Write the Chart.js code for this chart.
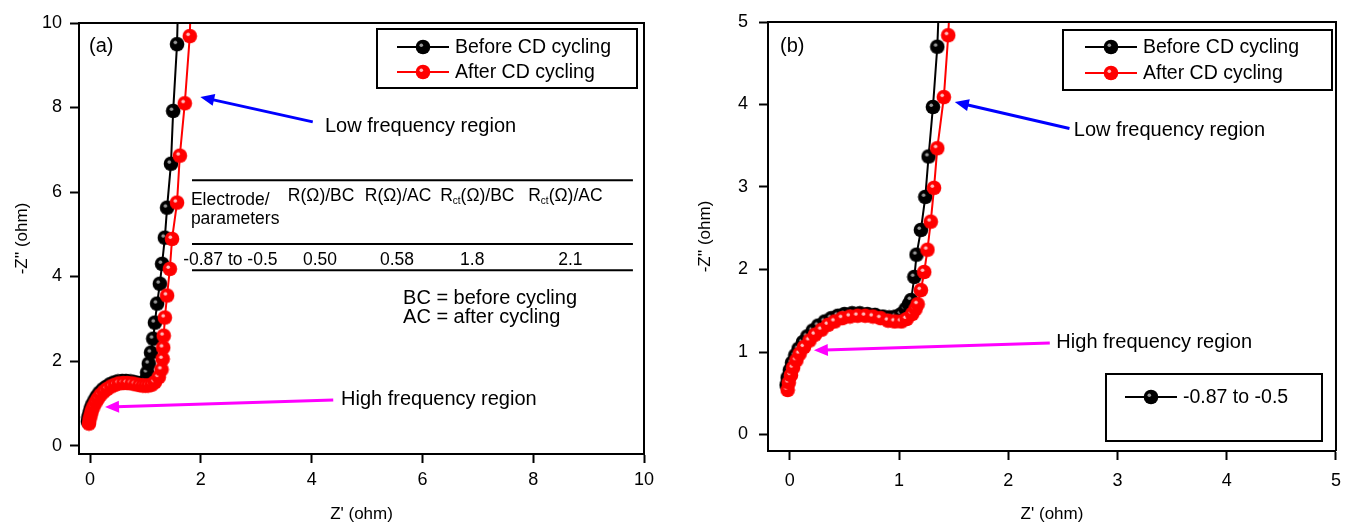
<!DOCTYPE html>
<html>
<head>
<meta charset="utf-8">
<script src="https://cdn.jsdelivr.net/npm/chart.js@4/dist/chart.umd.min.js"></script>
<style>
  html, body { margin: 0; padding: 0; background: #fff; }
  #wrap-a { position: absolute; left: 0; top: 0; }
  #wrap-b { position: absolute; left: 690px; top: 0; }
</style>
</head>
<body>
<div id="wrap-a"><canvas id="chart-a" width="690" height="525"></canvas></div>
<div id="wrap-b"><canvas id="chart-b" width="661" height="525"></canvas></div>
<script>
const FONT = '"Liberation Sans", Arial, Helvetica, sans-serif';

// Panel (a): Nyquist plot, Z' vs -Z'' (ohm)
const beforeA_x = [-0.04, -0.03, -0.01, 0.01, 0.04, 0.08, 0.12, 0.17, 0.23, 0.29, 0.36, 0.43, 0.50, 0.58, 0.65, 0.73, 0.80, 0.87, 0.93, 0.98, 1.01,
                   1.03, 1.06, 1.10, 1.14, 1.17, 1.21, 1.26, 1.30, 1.35, 1.39, 1.46, 1.50, 1.57, 1.59];
const beforeA_y = [0.57, 0.67, 0.77, 0.87, 0.97, 1.07, 1.16, 1.25, 1.33, 1.39, 1.45, 1.49, 1.52, 1.53, 1.53, 1.52, 1.50, 1.48, 1.47, 1.49, 1.56,
                   1.73, 1.94, 2.20, 2.53, 2.91, 3.36, 3.83, 4.30, 4.92, 5.63, 6.67, 7.92, 9.50, 10.6];
const afterA_x = [-0.02, -0.01, 0.01, 0.03, 0.06, 0.10, 0.14, 0.19, 0.25, 0.31, 0.38, 0.45, 0.52, 0.60, 0.67, 0.75, 0.82, 0.89, 0.95, 1.00, 1.05, 1.11,
                  1.17, 1.24, 1.29, 1.31, 1.32, 1.33, 1.35, 1.39, 1.44, 1.48, 1.57, 1.62, 1.71, 1.80, 1.82];
const afterA_y = [0.52, 0.62, 0.72, 0.82, 0.92, 1.02, 1.11, 1.20, 1.28, 1.34, 1.40, 1.44, 1.47, 1.48, 1.48, 1.47, 1.45, 1.43, 1.42, 1.42, 1.42, 1.44,
                  1.50, 1.62, 1.80, 2.05, 2.32, 2.60, 3.03, 3.55, 4.18, 4.89, 5.75, 6.86, 8.10, 9.69, 10.6];

// Panel (b): same data, zoomed
const beforeB_x = [-0.03, -0.02, 0.00, 0.02, 0.05, 0.08, 0.12, 0.16, 0.21, 0.26, 0.32, 0.38, 0.44, 0.50, 0.57, 0.64, 0.71, 0.78, 0.85, 0.91, 0.97, 1.02, 1.06,
                   1.09, 1.11, 1.14, 1.16, 1.20, 1.24, 1.27, 1.31, 1.35, 1.37];
const beforeB_y = [0.60, 0.69, 0.78, 0.87, 0.96, 1.04, 1.12, 1.19, 1.26, 1.32, 1.37, 1.41, 1.44, 1.46, 1.47, 1.47, 1.46, 1.45, 1.43, 1.42, 1.43, 1.46, 1.52,
                   1.58, 1.63, 1.91, 2.18, 2.48, 2.88, 3.37, 3.97, 4.70, 5.40];
const afterB_x = [-0.02, -0.01, 0.01, 0.03, 0.06, 0.09, 0.13, 0.18, 0.23, 0.29, 0.35, 0.41, 0.48, 0.55, 0.62, 0.69, 0.76, 0.83, 0.90, 0.96, 1.02, 1.07, 1.12,
                  1.15, 1.17, 1.20, 1.23, 1.26, 1.29, 1.32, 1.35, 1.41, 1.45, 1.47];
const afterB_y = [0.54, 0.63, 0.72, 0.81, 0.90, 0.98, 1.06, 1.14, 1.21, 1.27, 1.33, 1.37, 1.41, 1.43, 1.44, 1.44, 1.43, 1.41, 1.38, 1.37, 1.37, 1.40, 1.46,
                  1.52, 1.58, 1.75, 1.97, 2.24, 2.58, 2.99, 3.47, 4.09, 4.84, 5.40];

const ticksA_x = [0, 2, 4, 6, 8, 10];
const ticksA_y = [0, 2, 4, 6, 8, 10];
const ticksB_x = [0, 1, 2, 3, 4, 5];
const ticksB_y = [0, 1, 2, 3, 4, 5];

const seriesNames = ['Before CD cycling', 'After CD cycling'];
const tableHead = ['R(\u03A9)/BC', 'R(\u03A9)/AC', 'Rct(\u03A9)/BC', 'Rct(\u03A9)/AC'];
const tableRow = ['-0.87 to -0.5', '0.50', '0.58', '1.8', '2.1'];

// shaded ball marker
function makeBall(color, shine) {
  const c = document.createElement('canvas');
  c.width = 16; c.height = 16;
  const g = c.getContext('2d');
  g.fillStyle = color;
  g.beginPath(); g.arc(8, 8, 7.3, 0, Math.PI * 2); g.fill();
  g.fillStyle = shine;
  g.beginPath(); g.arc(6.3, 6.3, 1.8, 0, Math.PI * 2); g.fill();
  return c;
}
const blackBall = makeBall('#000', '#9a9a9a');
const redBall = makeBall('#ff0000', '#ffc0c0');

function zip(xs, ys) {
  return xs.map((x, i) => ({ x: x, y: ys[i] }));
}

function makeDatasets(bx, by, ax, ay) {
  return [
    { label: seriesNames[1], data: zip(ax, ay), showLine: true, borderColor: '#ff0000', borderWidth: 2,
      pointStyle: redBall, pointRadius: 8, order: 0 },
    { label: seriesNames[0], data: zip(bx, by), showLine: true, borderColor: '#000', borderWidth: 2,
      pointStyle: blackBall, pointRadius: 8, order: 1 }
  ];
}

function makeScales(cfg) {
  return {
    x: {
      type: 'linear', min: -0.2, max: cfg.xmax,
      afterBuildTicks: s => { s.ticks = cfg.xticks.map(v => ({ value: v })); },
      afterFit: s => { s.height = cfg.xHeight; },
      ticks: { color: '#000', font: { family: FONT, size: 18 }, padding: cfg.xPad, maxRotation: 0 },
      grid: { drawOnChartArea: false, tickLength: 9, tickWidth: 2, color: '#000' },
      border: { color: '#000', width: 2 },
      title: { display: true, text: "Z' (ohm)", color: '#000', font: { family: FONT, size: 17 }, padding: { top: 0, bottom: 0 } }
    },
    y: {
      type: 'linear', min: -0.2, max: cfg.ymax,
      afterBuildTicks: s => { s.ticks = cfg.yticks.map(v => ({ value: v })); },
      afterFit: s => { s.width = cfg.yWidth; },
      ticks: { color: '#000', font: { family: FONT, size: 18 }, padding: cfg.yPad },
      grid: { drawOnChartArea: false, tickLength: 9, tickWidth: 2, color: '#000' },
      border: { color: '#000', width: 2 },
      title: { display: true, text: "-Z'' (ohm)", color: '#000', font: { family: FONT, size: 17 }, padding: { top: cfg.yTitlePad, bottom: 0 } }
    }
  };
}

function arrow(ctx, x1, y1, x2, y2, color) {
  const a = Math.atan2(y2 - y1, x2 - x1);
  const hl = 14, hw = 6;
  ctx.save();
  ctx.strokeStyle = color;
  ctx.fillStyle = color;
  ctx.lineWidth = 3;
  ctx.beginPath();
  ctx.moveTo(x1, y1);
  ctx.lineTo(x2 - hl * 0.8 * Math.cos(a), y2 - hl * 0.8 * Math.sin(a));
  ctx.stroke();
  ctx.beginPath();
  ctx.moveTo(x2, y2);
  ctx.lineTo(x2 - hl * Math.cos(a) + hw * Math.sin(a), y2 - hl * Math.sin(a) - hw * Math.cos(a));
  ctx.lineTo(x2 - hl * Math.cos(a) - hw * Math.sin(a), y2 - hl * Math.sin(a) + hw * Math.cos(a));
  ctx.closePath();
  ctx.fill();
  ctx.restore();
}

function legendEntry(ctx, x0, y, color, ball, text) {
  ctx.save();
  ctx.strokeStyle = color;
  ctx.lineWidth = 2;
  ctx.beginPath(); ctx.moveTo(x0, y); ctx.lineTo(x0 + 52, y); ctx.stroke();
  ctx.drawImage(ball, x0 + 26 - 8, y - 8);
  ctx.fillStyle = '#000';
  ctx.textAlign = 'left';
  ctx.textBaseline = 'middle';
  ctx.fillText(text, x0 + 58, y + 1);
  ctx.restore();
}

// header text with "ct" subscript after R
function headText(ctx, text, x, y) {
  ctx.textAlign = 'left';
  if (text.startsWith('Rct')) {
    ctx.font = '17.5px ' + FONT;
    ctx.fillText('R', x, y);
    x += ctx.measureText('R').width;
    ctx.font = '10px ' + FONT;
    ctx.fillText('ct', x, y + 5);
    x += ctx.measureText('ct').width;
    ctx.font = '17.5px ' + FONT;
    ctx.fillText(text.slice(3), x, y);
  } else {
    ctx.font = '17.5px ' + FONT;
    ctx.fillText(text, x, y);
  }
}

function frame(ctx, a) {
  ctx.strokeStyle = '#000';
  ctx.lineWidth = 2;
  ctx.beginPath();
  ctx.moveTo(a.left, a.top); ctx.lineTo(a.right, a.top); ctx.lineTo(a.right, a.bottom);
  ctx.stroke();
}

const decorA = {
  id: 'decorA',
  afterDraw(chart) {
    const ctx = chart.ctx, a = chart.chartArea;
    const X = v => chart.scales.x.getPixelForValue(v);
    const Y = v => chart.scales.y.getPixelForValue(v);
    ctx.save();
    frame(ctx, a);

    // legend
    ctx.strokeStyle = '#000';
    ctx.lineWidth = 2;
    ctx.strokeRect(a.right - 267, a.top + 6, 260, 59);
    ctx.font = '19.5px ' + FONT;
    legendEntry(ctx, a.right - 247, a.top + 24, '#000', blackBall, seriesNames[0]);
    legendEntry(ctx, a.right - 247, a.top + 49, '#ff0000', redBall, seriesNames[1]);

    // arrows and labels
    arrow(ctx, X(4.02), Y(7.66), X(1.99), Y(8.25), '#0000ff');
    arrow(ctx, X(4.39), Y(1.08), X(0.27), Y(0.91), '#ff00ff');
    ctx.fillStyle = '#000';
    ctx.font = '20px ' + FONT;
    ctx.textAlign = 'left'; ctx.textBaseline = 'middle';
    ctx.fillText('Low frequency region', X(4.24), Y(7.55));
    ctx.fillText('High frequency region', X(4.53), Y(1.08));

    // parameter table
    ctx.strokeStyle = '#000';
    ctx.lineWidth = 2;
    [6.28, 4.77, 4.15].forEach(v => {
      ctx.beginPath(); ctx.moveTo(X(1.84), Y(v)); ctx.lineTo(X(9.8), Y(v)); ctx.stroke();
    });
    ctx.font = '17.5px ' + FONT;
    ctx.fillText('Electrode/', X(1.82), Y(5.81));
    ctx.fillText('parameters', X(1.82), Y(5.36));
    const headX = [3.57, 4.96, 6.32, 7.91];
    tableHead.forEach((t, i) => headText(ctx, t, X(headX[i]), Y(5.9)));
    ctx.font = '17.5px ' + FONT;
    ctx.textAlign = 'left';
    ctx.fillText(tableRow[0], X(1.68), Y(4.39));
    ctx.textAlign = 'center';
    const rowX = [4.15, 5.54, 6.9, 8.67];
    tableRow.slice(1).forEach((t, i) => ctx.fillText(t, X(rowX[i]), Y(4.39)));
    ctx.textAlign = 'left';
    ctx.font = '20px ' + FONT;
    ctx.fillText('BC = before cycling', X(5.65), Y(3.49));
    ctx.fillText('AC = after cycling', X(5.65), Y(3.02));
    ctx.font = '20px ' + FONT;
    ctx.fillText('(a)', a.left + 10, a.top + 23);
    ctx.restore();
  }
};

const decorB = {
  id: 'decorB',
  afterDraw(chart) {
    const ctx = chart.ctx, a = chart.chartArea;
    const X = v => chart.scales.x.getPixelForValue(v);
    const Y = v => chart.scales.y.getPixelForValue(v);
    ctx.save();
    frame(ctx, a);

    ctx.lineWidth = 2;
    ctx.strokeStyle = '#000';
    ctx.strokeRect(a.right - 273, a.top + 8, 269, 60);
    ctx.font = '19.5px ' + FONT;
    legendEntry(ctx, a.right - 251, a.top + 25, '#000', blackBall, seriesNames[0]);
    legendEntry(ctx, a.right - 251, a.top + 51, '#ff0000', redBall, seriesNames[1]);

    ctx.strokeStyle = '#000';
    ctx.lineWidth = 2;
    ctx.strokeRect(a.right - 230, a.bottom - 77, 216, 67);
    legendEntry(ctx, a.right - 211, a.bottom - 54, '#000', blackBall, tableRow[0]);

    arrow(ctx, X(2.56), Y(3.71), X(1.51), Y(4.03), '#0000ff');
    arrow(ctx, X(2.38), Y(1.11), X(0.22), Y(1.02), '#ff00ff');
    ctx.fillStyle = '#000';
    ctx.font = '20px ' + FONT;
    ctx.textAlign = 'left'; ctx.textBaseline = 'middle';
    ctx.fillText('Low frequency region', X(2.6), Y(3.69));
    ctx.fillText('High frequency region', X(2.44), Y(1.12));
    ctx.fillText('(b)', a.left + 12, a.top + 24);
    ctx.restore();
  }
};

new Chart(document.getElementById('chart-a'), {
  type: 'scatter',
  data: { datasets: makeDatasets(beforeA_x, beforeA_y, afterA_x, afterA_y) },
  options: {
    responsive: false,
    animation: false,
    layout: { padding: { top: 23, right: 46, left: 0, bottom: 0 } },
    plugins: { legend: { display: false }, tooltip: { enabled: false } },
    scales: makeScales({ xmax: 10, ymax: 10, xticks: ticksA_x, yticks: ticksA_y,
      xHeight: 71, yWidth: 79, xPad: 6, yPad: 8, yTitlePad: 12 })
  },
  plugins: [decorA]
});

new Chart(document.getElementById('chart-b'), {
  type: 'scatter',
  data: { datasets: makeDatasets(beforeB_x, beforeB_y, afterB_x, afterB_y) },
  options: {
    responsive: false,
    animation: false,
    layout: { padding: { top: 22, right: 8, left: 0, bottom: 0 } },
    plugins: { legend: { display: false }, tooltip: { enabled: false } },
    scales: makeScales({ xmax: 5, ymax: 5, xticks: ticksB_x, yticks: ticksB_y,
      xHeight: 74, yWidth: 78, xPad: 10, yPad: 11, yTitlePad: 5 })
  },
  plugins: [decorB]
});
</script>
</body>
</html>
